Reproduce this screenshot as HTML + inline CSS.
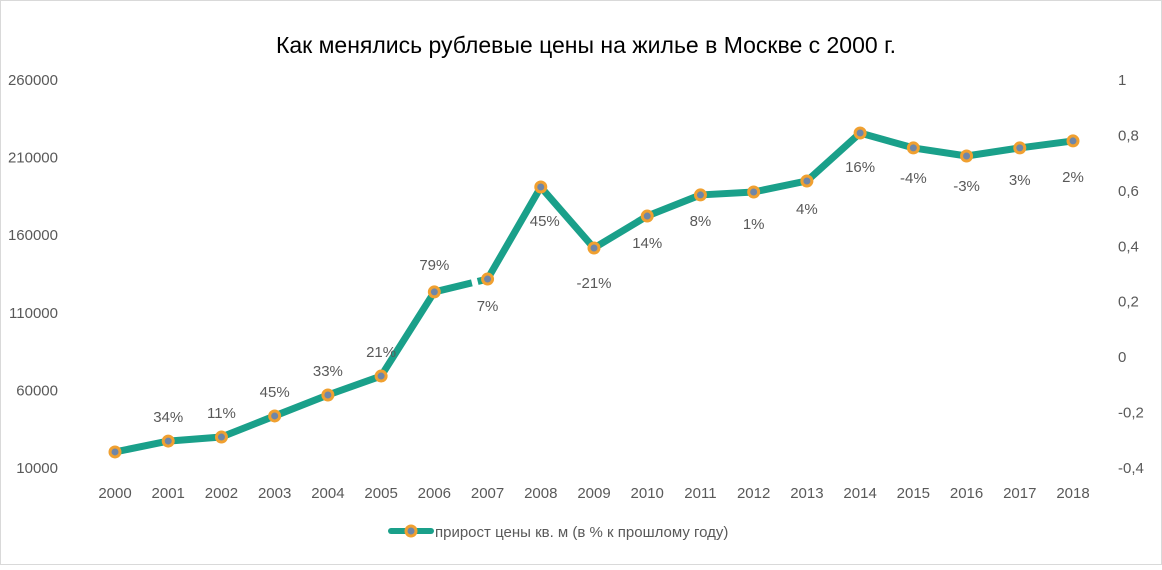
<!DOCTYPE html>
<html><head><meta charset="utf-8">
<style>
html,body{margin:0;padding:0;background:#fff;}
body{width:1162px;height:565px;overflow:hidden;font-family:"Liberation Sans","DejaVu Sans",sans-serif;}
svg text{font-family:"Liberation Sans","DejaVu Sans",sans-serif;fill:#595959;}
</style></head>
<body>
<svg id="chart" width="1162" height="565" viewBox="0 0 1162 565">
<rect x="0.5" y="0.5" width="1161" height="564" fill="#fff" stroke="#d9d9d9"/>
<text x="586" y="53" text-anchor="middle" font-size="23" style="fill:#000">Как менялись рублевые цены на жилье в Москве с 2000 г.</text>
<g id="g"></g>
<g>
<line x1="391" y1="531" x2="431" y2="531" stroke="#1aa08a" stroke-width="6" stroke-linecap="round"/>
<circle cx="411" cy="531" r="5" fill="#6f86a8" stroke="#f0a030" stroke-width="3"/>
<text x="435" y="537" font-size="15">прирост цены кв. м (в % к прошлому году)</text>
</g>
</svg>
<script>
const years=["2000","2001","2002","2003","2004","2005","2006","2007","2008","2009","2010","2011","2012","2013","2014","2015","2016","2017","2018"];
const prices=[19700,26700,29300,42900,56400,68600,122800,131100,190400,151100,171700,185300,187200,194300,225200,215600,210400,215600,220100];
const pctLabels=["","34%","11%","45%","33%","21%","79%","7%","45%","-21%","14%","8%","1%","4%","16%","-4%","-3%","3%","2%"];
const labelOffset=[0,-19,-19,-19,-19,-19,-22,32,39,40,32,31,37,33,39,35,35,37,41];
const leftTicks=["260000","210000","160000","110000","60000","10000"];
const rightTicks=["1","0,8","0,6","0,4","0,2","0","-0,2","-0,4"];
const NS="http://www.w3.org/2000/svg";
const g=document.getElementById('g');
const X0=115,X1=1073,YT=79,YB=467,VMIN=10000,VMAX=260000;
function x(i){return X0+(X1-X0)*i/(years.length-1);}
function y(v){return YB-(v-VMIN)/(VMAX-VMIN)*(YB-YT);}
function mk(tag,attrs,txt){const e=document.createElementNS(NS,tag);for(const k in attrs)e.setAttribute(k,attrs[k]);if(txt!==undefined)e.textContent=txt;g.appendChild(e);return e;}
leftTicks.forEach(function(t){
  const e=mk('text',{x:58,y:y(+t)+6,'text-anchor':'end','font-size':'15'},t);
  
  
});
rightTicks.forEach(function(t,i){
  const yy=YT+(YB-YT)*i/(rightTicks.length-1);
  const e=mk('text',{x:1118,y:yy+6,'text-anchor':'start','font-size':'15'},t);
  
  
});
years.forEach(function(t,i){
  const e=mk('text',{x:x(i),y:498,'text-anchor':'middle','font-size':'15'},t);
  
  
});
const pts=prices.map(function(v,i){return x(i)+','+y(v);}).join(' ');
const line=mk('polyline',{points:pts,fill:'none',stroke:'#1aa08a','stroke-width':'7','stroke-linejoin':'round'});


// gap between 2006 and 2007
const ax=x(6),ay=y(prices[6]),bx=x(7),by=y(prices[7]);
const dx=bx-ax,dy=by-ay,L=Math.hypot(dx,dy);
const gx=ax+dx*0.76,gy=ay+dy*0.76,ux=dx/L,uy=dy/L;
const gap=mk('line',{x1:gx-ux*3,y1:gy-uy*3,x2:gx+ux*3,y2:gy+uy*3,stroke:'#fff','stroke-width':'10'});


prices.forEach(function(v,i){
  const c=mk('circle',{cx:x(i),cy:y(v),r:5,fill:'#6f86a8',stroke:'#f0a030','stroke-width':'3'});
  
  
  if(pctLabels[i]){
    const t=mk('text',{x:x(i)+(i===8?4:0),y:y(v)+labelOffset[i],'text-anchor':'middle','font-size':'15'},pctLabels[i]);
    
    
  }
});
</script>
</body></html>
